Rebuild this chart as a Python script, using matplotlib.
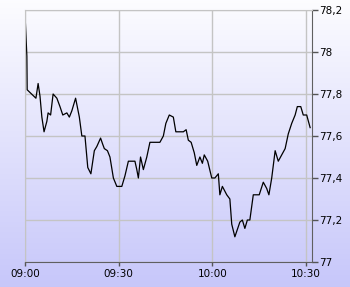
import numpy as np
import matplotlib
matplotlib.use('Agg')
import matplotlib.pyplot as plt

# minutes after 09:00 and price
minutes = [0, 0.6, 0.7, 1.4, 3.5, 4.2, 4.8, 5.4, 6.1, 7.0, 7.4, 8.2, 9.0, 10.2, 11.2, 12.1,
           13.4, 14.2, 15.0, 16.2, 17.4, 18.2, 19.2, 20.1, 21.1, 22.2, 23.0, 24.2, 24.9,
           25.4, 26.4, 27.2, 28.3, 29.4, 31.0, 32.0, 33.1, 35.2, 35.8, 36.3, 37.0, 37.9,
           39.0, 40.0, 43.2, 44.3, 45.1, 46.2, 47.5, 48.3, 50.7, 51.6, 52.3, 53.2, 54.2,
           55.0, 56.0, 56.8, 57.4, 58.5, 59.8, 60.8, 61.9, 62.4, 63.2, 64.6, 65.6, 66.2,
           67.2, 68.8, 69.6, 70.4, 71.2, 72.0, 73.1, 75.0, 76.3, 77.4, 78.1, 79.0, 80.1,
           81.1, 82.2, 83.3, 84.3, 85.4, 86.5, 87.2, 88.3, 89.1, 90.2, 91.3]
prices = [78.18, 77.98, 77.82, 77.81, 77.78, 77.85, 77.79, 77.69, 77.62, 77.67, 77.71, 77.70,
          77.80, 77.78, 77.74, 77.70, 77.71, 77.69, 77.72, 77.78, 77.69, 77.60, 77.60, 77.45,
          77.42, 77.53, 77.55, 77.59, 77.56, 77.54, 77.53, 77.50, 77.40, 77.36, 77.36, 77.41,
          77.48, 77.48, 77.44, 77.40, 77.50, 77.44, 77.50, 77.57, 77.57, 77.60, 77.66, 77.70,
          77.69, 77.62, 77.62, 77.63, 77.58, 77.57, 77.52, 77.46, 77.50, 77.47, 77.51, 77.48,
          77.40, 77.40, 77.42, 77.32, 77.36, 77.32, 77.30, 77.18, 77.12, 77.19, 77.20, 77.16,
          77.20, 77.20, 77.32, 77.32, 77.38, 77.35, 77.32, 77.40, 77.53, 77.48, 77.51, 77.54,
          77.61, 77.66, 77.70, 77.74, 77.74, 77.70, 77.70, 77.64]

xticks = [0, 30, 60, 90]
xlabels = ['09:00', '09:30', '10:00', '10:30']
yticks = [77, 77.2, 77.4, 77.6, 77.8, 78, 78.2]
ylabels = ['77', '77,2', '77,4', '77,6', '77,8', '78', '78,2']

fig = plt.figure(figsize=(3.5, 2.87), dpi=100)

# background gradient
bg = fig.add_axes([0, 0, 1, 1], zorder=-1)
grad = np.linspace(0, 1, 256).reshape(-1, 1)
top = np.array([0.99, 0.99, 1.0])
bot = np.array([0.78, 0.78, 0.98])
img = top + (bot - top) * grad[:, :, None]
bg.imshow(img, aspect='auto', extent=[0, 1, 0, 1])
bg.axis('off')

ax = fig.add_axes([25/350, 1 - 262/287, 287/350, 252/287])
ax.patch.set_alpha(0)
ax.plot(minutes, prices, color='black', lw=0.9)

ax.set_xlim(0, 91.9)
ax.set_ylim(77, 78.2)
ax.set_xticks(xticks)
ax.set_xticklabels(xlabels)
ax.set_yticks(yticks)
ax.set_yticklabels(ylabels)
ax.yaxis.tick_right()
ax.grid(True, color='#c4c4c4', lw=1)
ax.tick_params(axis='both', colors='#555555', labelcolor='black', labelsize=7.5,
               length=3, width=1, pad=2)
ax.tick_params(axis='y', length=4, pad=1)

for s in ['left', 'top']:
    ax.spines[s].set_color('#c4c4c4')
for s in ['right', 'bottom']:
    ax.spines[s].set_color('#606060')

fig.savefig('out.png', dpi=100)
